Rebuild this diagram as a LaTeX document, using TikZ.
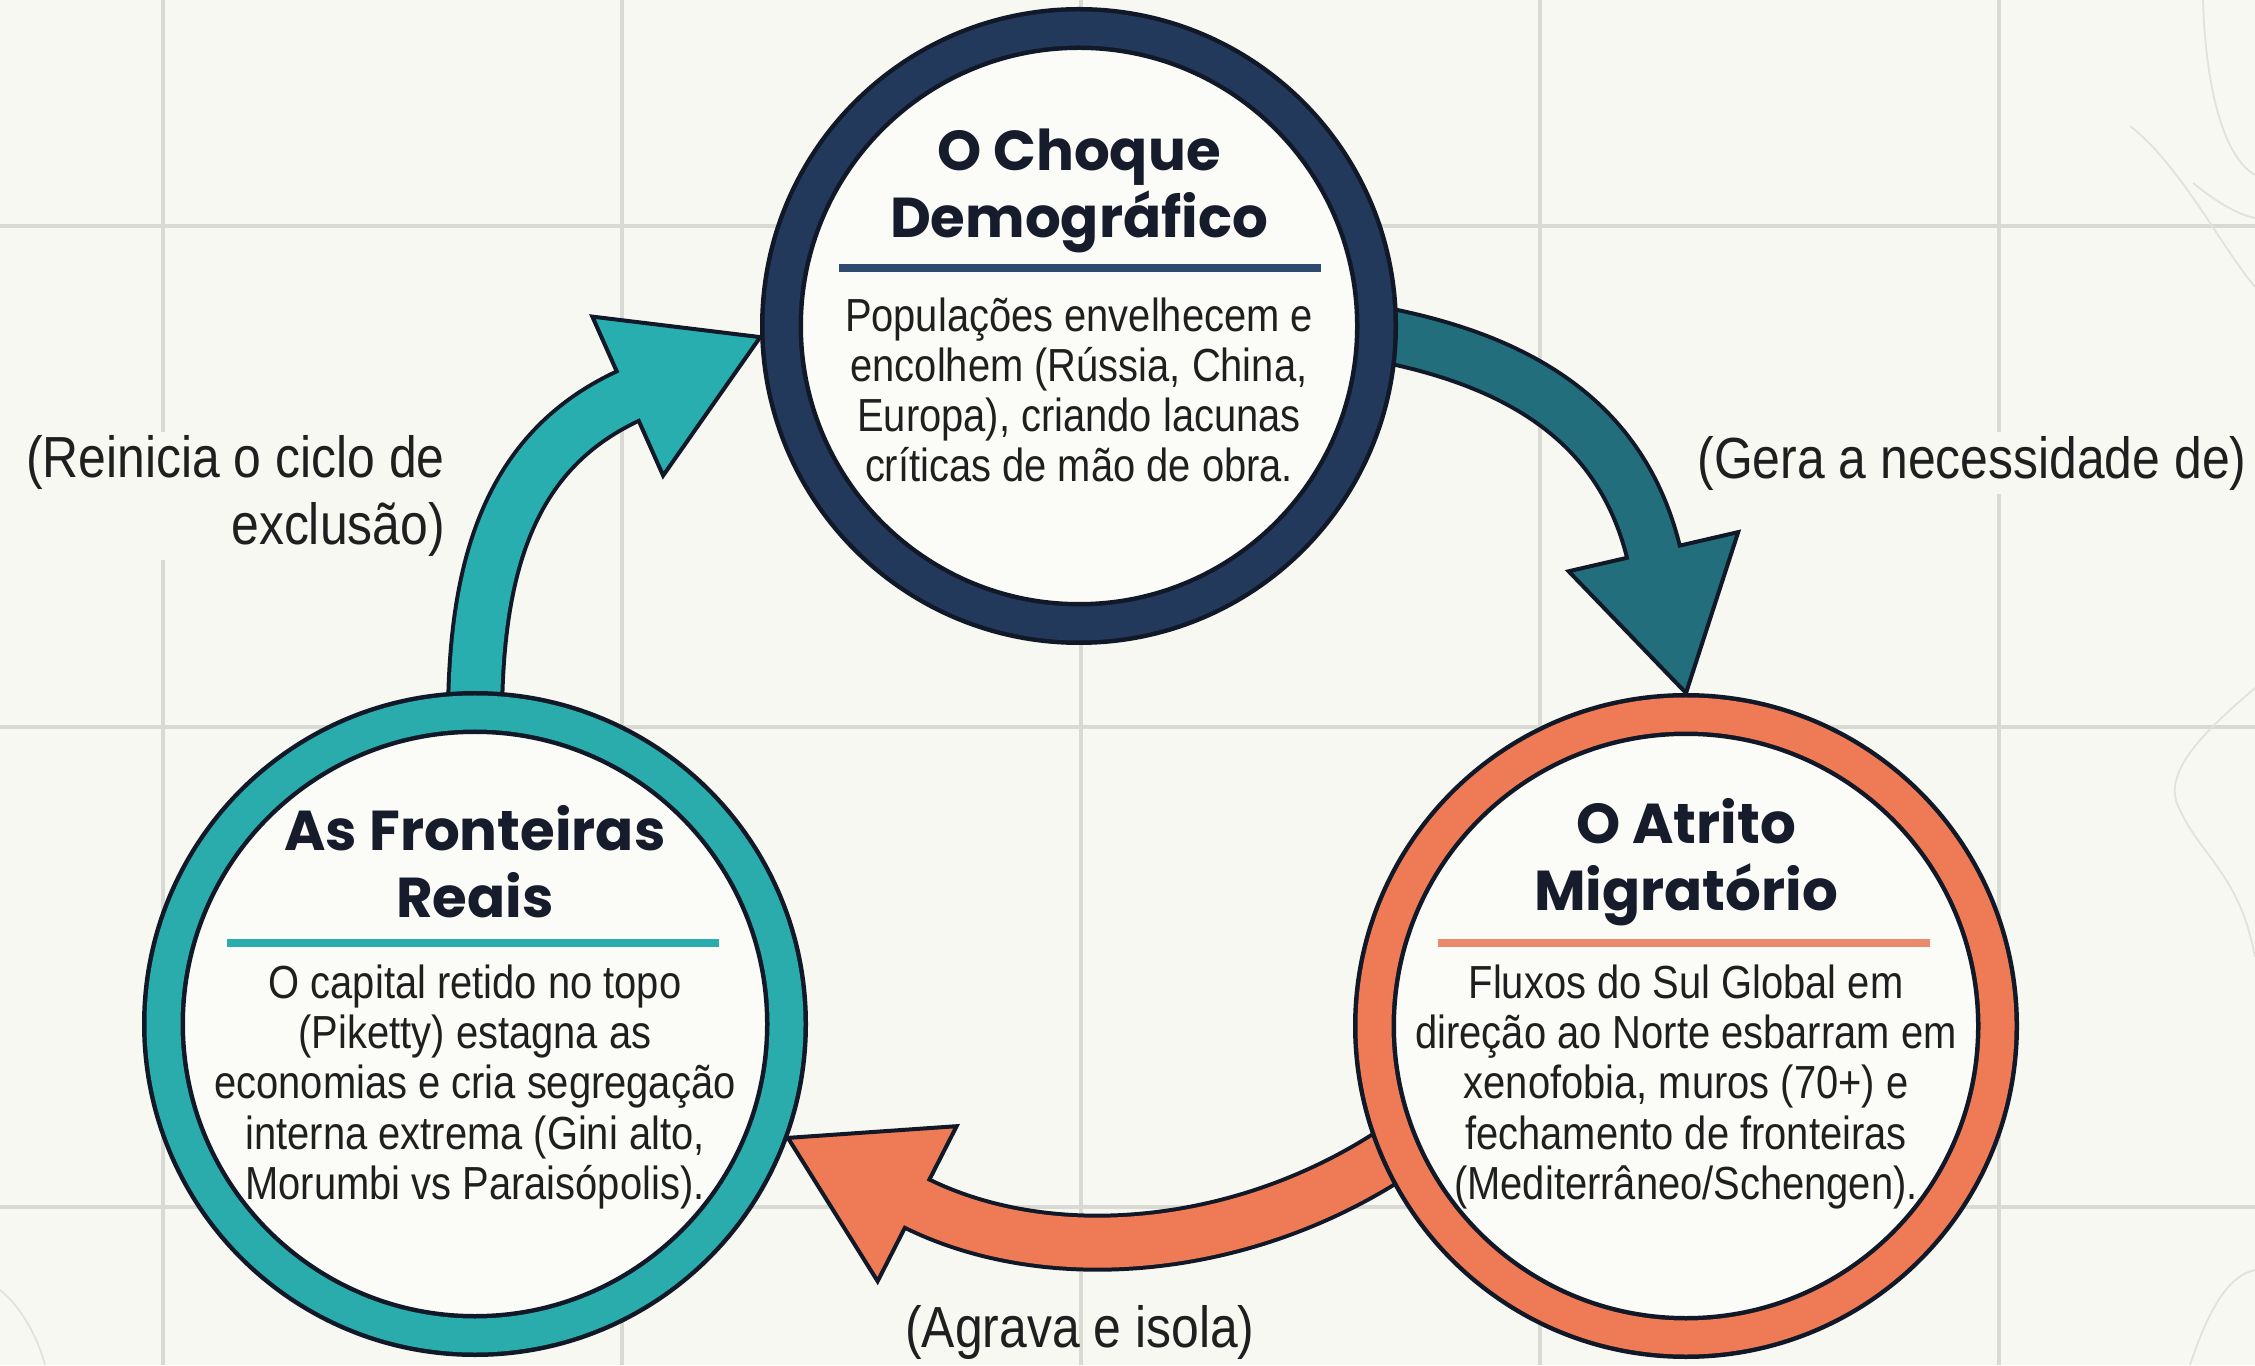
\documentclass[tikz,border=0pt]{standalone}
\usepackage{fontspec}
\usepackage{tikz}
\usetikzlibrary{calc, backgrounds}

\setmainfont{Liberation Sans}
\newfontfamily\corpofont{Liberation Sans}[FakeStretch=0.86]
\newfontfamily\titulofont{Poppins}

\definecolor{fundo}{HTML}{F8F8F2}
\definecolor{grade}{HTML}{DADAD4}
\definecolor{miolo}{HTML}{FBFBF7}
\definecolor{contorno}{HTML}{111827}
\definecolor{marinho}{HTML}{23395B}
\definecolor{marinhoclaro}{HTML}{2E4A6E}
\definecolor{turquesa}{HTML}{2AABAC}
\definecolor{turquesaseta}{HTML}{28AEAE}
\definecolor{petroleo}{HTML}{236E7C}
\definecolor{coral}{HTML}{EF7B56}
\definecolor{coralclaro}{HTML}{E88A6C}
\definecolor{tinta}{HTML}{161C2B}
\definecolor{corpo}{HTML}{1F1F1F}

\tikzset{
  anel/.style={circle, fill=miolo, draw=contorno, line width=0.45mm,
    double=#1, double distance=3.4mm, inner sep=0pt, outer sep=2.15mm},
  titulo/.style={font=\titulofont\bfseries\fontsize{16}{19}\selectfont,
    text=tinta, align=center, inner sep=1pt},
  miolotxt/.style={font=\corpofont\fontsize{13.2}{14.3}\selectfont,
    text=corpo, align=center, inner sep=1pt},
  rotulo/.style={font=\corpofont\fontsize{16.5}{19}\selectfont,
    text=corpo, inner sep=1pt},
  divisor/.style={line width=0.8mm},
  borda/.style={draw=contorno, line width=0.4mm, line join=miter},
}

\begin{document}
\begin{tikzpicture}
  \useasboundingbox (0,0) rectangle (22.55,13.65);

  % os tres ciclos
  \node[anel=marinho, minimum size=5.95cm] (choque) at (10.79,10.39) {};
  \node[anel=coral, minimum size=6.23cm] (atrito) at (16.86,3.39) {};
  \node[anel=turquesa, minimum size=6.23cm] (fronteiras) at (4.75,3.41) {};

  \node[titulo] (choqueT) at (10.79,11.74) {O Choque\\Demográfico};
  \draw[divisor, marinhoclaro] (8.39,10.97) -- (13.21,10.97);
  \node[miolotxt] (choqueB) at (10.79,9.75) {Populações envelhecem e\\encolhem (Rússia, China,\\Europa), criando lacunas\\críticas de mão de obra.};

  \node[titulo] (atritoT) at (16.86,5.03) {O Atrito\\Migratório};
  \draw[divisor, coralclaro] (14.38,4.22) -- (19.30,4.22);
  \node[miolotxt] (atritoB) at (16.86,2.78) {Fluxos do Sul Global em\\direção ao Norte esbarram em\\xenofobia, muros (70+) e\\fechamento de fronteiras\\(Mediterrâneo/Schengen).};

  \node[titulo] (fronteirasT) at (4.75,5.03) {As Fronteiras\\Reais};
  \draw[divisor, turquesa] (2.27,4.22) -- (7.19,4.22);
  \node[miolotxt] (fronteirasB) at (4.75,2.78) {O capital retido no topo\\(Piketty) estagna as\\economias e cria segregação\\interna extrema (Gini alto,\\Morumbi vs Paraisópolis).};

  % rotulos das setas
  \node[rotulo, fill=fundo, align=right, anchor=east] (reinicia) at (4.49,8.69) {(Reinicia o ciclo de\\exclusão)};
  \node[rotulo, fill=fundo] (gera) at (19.72,9.02) {(Gera a necessidade de)};
  \node[rotulo] (agrava) at (10.80,0.33) {(Agrava e isola)};

  \begin{scope}[on background layer]
    \fill[fundo] (0,0) rectangle (22.55,13.65);
    \foreach \x in {1.63,6.22,10.81,15.40,19.99}
      \draw[grade, line width=1pt] (\x,0) -- (\x,13.65);
    \foreach \y in {11.39,6.38,1.58}
      \draw[grade, line width=1pt] (0,\y) -- (22.55,\y);
    % rabiscos do fundo
    \draw[grade!80, line width=0.5pt] (22.03,13.65) .. controls (22.05,12.9) and (22.2,12.1) .. (22.55,11.9);
    \draw[grade!80, line width=0.5pt] (21.30,12.39) .. controls (21.8,12.0) and (22.2,11.2) .. (22.55,10.78);
    \draw[grade!80, line width=0.5pt] (21.93,11.82) .. controls (22.2,11.6) and (22.4,11.5) .. (22.55,11.47);
    \draw[grade!80, line width=0.5pt] (22.55,6.77) .. controls (22.0,6.3) and (21.6,5.9) .. (21.8,5.55) .. controls (22.0,5.1) and (22.4,4.9) .. (22.55,4.08);
    \draw[grade!80, line width=0.5pt] (21.90,0) .. controls (22.1,0.6) and (22.3,0.9) .. (22.55,0.95);
    \draw[grade!80, line width=0.5pt] (0,0.75) .. controls (0.25,0.55) and (0.4,0.2) .. (0.45,0);

    % seta: choque -> atrito
    \draw[contorno, line width=5.8mm, shorten <=-3mm] (choque.-2) to[out=-10,in=103] ($(atrito.north)+(103:1.40)$);
    \draw[borda, fill=petroleo, shift={(atrito.north)}, rotate=-77] (0,0) -- (-1.45,0.87) -- (-1.45,-0.87) -- cycle;
    \draw[petroleo, line width=5.0mm, shorten <=-3mm] (choque.-2) to[out=-10,in=103] ($(atrito.north)+(103:1.40)$);

    % seta: atrito -> fronteiras
    \draw[contorno, line width=5.8mm, shorten <=-3mm] (atrito.204) to[out=215,in=333,looseness=0.85] ($(fronteiras.-20)+(333:1.40)$);
    \draw[borda, fill=coral, shift={(fronteiras.-20)}, rotate=153] (0,0) -- (-1.45,0.87) -- (-1.45,-0.87) -- cycle;
    \draw[coral, line width=5.0mm, shorten <=-3mm] (atrito.204) to[out=215,in=333,looseness=0.85] ($(fronteiras.-20)+(333:1.40)$);

    % seta: fronteiras -> choque
    \draw[contorno, line width=5.8mm, shorten <=-3mm] (fronteiras.north) to[out=90,in=204] ($(choque.182)+(204:1.40)$);
    \draw[borda, fill=turquesaseta, shift={(choque.182)}, rotate=24] (0,0) -- (-1.45,0.87) -- (-1.45,-0.87) -- cycle;
    \draw[turquesaseta, line width=5.0mm, shorten <=-3mm] (fronteiras.north) to[out=90,in=204] ($(choque.182)+(204:1.40)$);
  \end{scope}
\end{tikzpicture}
\end{document}
